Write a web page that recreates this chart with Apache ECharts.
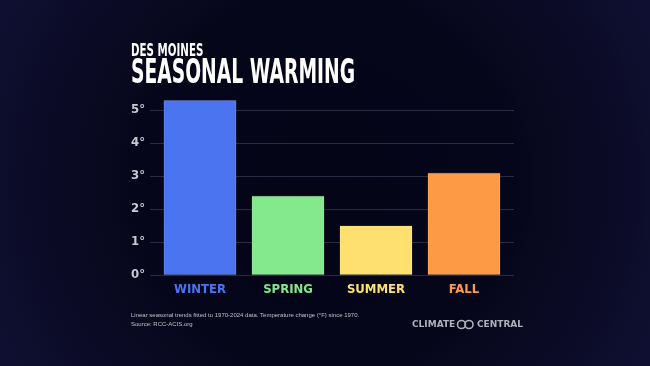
<!DOCTYPE html>
<html><head><meta charset="utf-8">
<script src="https://cdn.jsdelivr.net/npm/echarts@6/dist/echarts.min.js"></script>
<style>html,body{margin:0;padding:0;background:#07071a;}#c{width:650px;height:366px;}</style>
</head><body><div id="c"></div>
<script>
const categories = ['WINTER', 'SPRING', 'SUMMER', 'FALL'];
const values = [5.3, 2.4, 1.5, 3.1];
const barColors = ['#4a74f0', '#84e88c', '#fde06f', '#fd9a45'];
const yTicks = [0, 1, 2, 3, 4, 5];
const titleTop = 'DES MOINES';
const titleMain = 'SEASONAL WARMING';
const note1 = 'Linear seasonal trends fitted to 1970-2024 data. Temperature change (°F) since 1970.';
const note2 = 'Source: RCC-ACIS.org';

const cond = '"Liberation Sans Narrow", "DejaVu Sans Condensed", "DejaVu Sans", sans-serif';
const chart = echarts.init(document.getElementById('c'), null, {renderer: 'canvas'});
chart.setOption({
  backgroundColor: {
    type: 'radial', x: 0.5, y: 0.5, r: 1.02,
    colorStops: [{offset: 0, color: '#050518'}, {offset: 0.5, color: '#06061a'}, {offset: 0.87, color: '#0d0d2c'}, {offset: 1, color: '#0f0f32'}]
  },
  grid: [
    {left: 150, right: 136, top: 110, bottom: 91},
    {left: 156, right: 142, top: 110, bottom: 91}
  ],
  xAxis: [
    {gridIndex: 0, type: 'category', data: categories, show: false},
    {gridIndex: 1, type: 'category', data: categories,
     axisLine: {show: false}, axisTick: {show: false},
     axisLabel: {
       margin: 8, fontFamily: cond, fontWeight: 'bold condensed', fontSize: 13,
       color: function (v, i) { return barColors[i]; }
     }}
  ],
  yAxis: [
    {gridIndex: 0, type: 'value', min: 0, max: 5, interval: 1,
     axisLine: {show: false}, axisTick: {show: false},
     splitLine: {lineStyle: {color: '#2a2a42', width: 1}},
     axisLabel: {margin: 5, color: '#c9c9d2', fontFamily: cond, fontWeight: 'bold condensed', fontSize: 13,
       formatter: function (v) { return yTicks.indexOf(v) >= 0 ? v + '°' : ''; }}},
    {gridIndex: 1, type: 'value', min: 0, max: 5, interval: 1, show: false}
  ],
  series: [{
    type: 'bar', xAxisIndex: 1, yAxisIndex: 1, barWidth: 73, clip: false,
    data: values.map(function (v, i) {
      return {value: v, itemStyle: {color: barColors[i], borderColor: 'rgba(255,255,255,0.15)', borderWidth: 1}};
    })
  }],
  graphic: [
    {type: 'text', x: 131, y: 42, scaleX: 0.587, style: {text: titleTop, fill: '#ffffff', font: 'bold 17.5px "DejaVu Sans"', verticalAlign: 'top'}},
    {type: 'text', x: 131, y: 58, scaleX: 0.567, style: {text: titleMain, fill: '#ffffff', font: 'bold 33px "DejaVu Sans"', verticalAlign: 'top'}},
    {type: 'text', x: 131, y: 312.5, style: {text: note1, fill: '#c0c0ca', font: '6px "Liberation Sans", sans-serif', verticalAlign: 'top'}},
    {type: 'text', x: 131, y: 321, style: {text: note2, fill: '#c0c0ca', font: '6px "Liberation Sans", sans-serif', verticalAlign: 'top'}},
    {type: 'text', x: 412, y: 320, style: {text: 'CLIMATE', fill: '#b0b0ba', font: 'bold 9px "DejaVu Sans", sans-serif', verticalAlign: 'top'}},
    {type: 'circle', shape: {cx: 461.5, cy: 324.5, r: 4}, style: {fill: 'none', stroke: '#b0b0ba', lineWidth: 1.6}},
    {type: 'circle', shape: {cx: 469, cy: 324.5, r: 4}, style: {fill: 'none', stroke: '#b0b0ba', lineWidth: 1.6}},
    {type: 'text', x: 477, y: 320, style: {text: 'CENTRAL', fill: '#b0b0ba', font: 'bold 9px "DejaVu Sans", sans-serif', verticalAlign: 'top'}}
  ]
});
</script></body></html>
